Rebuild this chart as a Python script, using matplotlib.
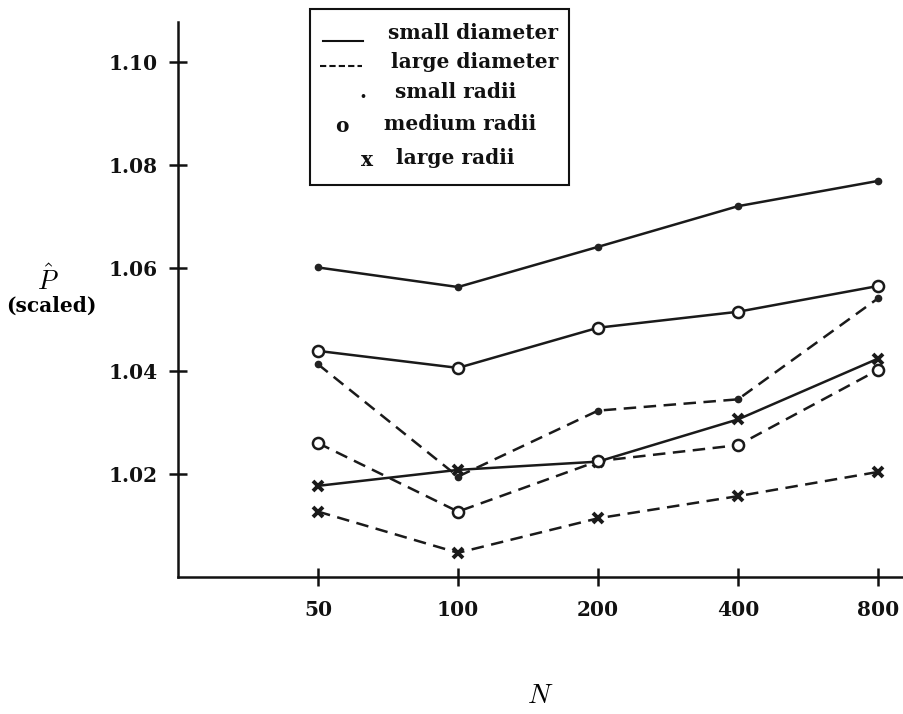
import matplotlib
matplotlib.use("Agg")
import matplotlib.pyplot as plt
import numpy as np
from matplotlib.patches import Rectangle
from matplotlib.lines import Line2D

# ---- data ----
N_labels = ["50", "100", "200", "400", "800"]
N_pos = [1, 2, 3, 4, 5]  # log2 spacing
# small diameter (solid)
sd_small = [1.0601, 1.0563, 1.0641, 1.0720, 1.0769]
sd_medium = [1.0439, 1.0406, 1.0484, 1.0515, 1.0565]
sd_large = [1.0177, 1.0208, 1.0224, 1.0306, 1.0424]
# large diameter (dashed)
ld_small = [1.0413, 1.0195, 1.0323, 1.0345, 1.0541]
ld_medium = [1.0260, 1.0127, 1.0225, 1.0256, 1.0402]
ld_large = [1.0127, 1.0047, 1.0114, 1.0157, 1.0204]
y_ticks = [1.02, 1.04, 1.06, 1.08, 1.10]
y_ticklabels = ["1.02", "1.04", "1.06", "1.08", "1.10"]
legend_texts = ["small diameter", "large diameter", "small radii", "medium radii", "large radii"]

plt.rcParams['mathtext.fontset'] = 'cm'
W, H = 904, 714
fig = plt.figure(figsize=(W/100, H/100), dpi=100)
ax = fig.add_axes([178/W, 1-577/H, (902-178)/W, (577-22)/H])

def px(x, y):
    return (x/W, 1-y/H)

lw = 1.8
dash = (0, (5, 3))
styles = [
    (sd_small, '-', dict(marker='o', ms=4.5, mfc='#222222', mec='#222222')),
    (sd_medium, '-', dict(marker='o', ms=8, mfc='white', mec='#1a1a1a', mew=1.8)),
    (sd_large, '-', dict(marker='x', ms=7.5, mec='#1a1a1a', mew=2.8)),
    (ld_small, dash, dict(marker='o', ms=4.5, mfc='#222222', mec='#222222')),
    (ld_medium, dash, dict(marker='o', ms=8, mfc='white', mec='#1a1a1a', mew=1.8)),
    (ld_large, dash, dict(marker='x', ms=7.5, mec='#1a1a1a', mew=2.8)),
]
for vals, ls, mk in styles:
    ax.plot(N_pos, vals, color='#1a1a1a', lw=lw, linestyle=ls, **mk)

ax.set_xlim(0, 724/140)
ax.set_ylim(1.0, 1.10 + 40*0.000194)
for s in ['top', 'right']:
    ax.spines[s].set_visible(False)
for s in ['left', 'bottom']:
    ax.spines[s].set_linewidth(1.8)
    ax.spines[s].set_color('#111111')

ax.set_xticks(N_pos)
ax.set_xticklabels(N_labels)
ax.set_yticks(y_ticks)
ax.set_yticklabels(y_ticklabels)
ax.tick_params(direction='inout', length=13, width=1.8, color='#111111')
ax.tick_params(axis='x', pad=10)
ax.tick_params(axis='y', pad=8)
for lab in ax.get_xticklabels() + ax.get_yticklabels():
    lab.set_fontfamily('DejaVu Serif')
    lab.set_fontweight('bold')
    lab.set_fontsize(14.5)
    lab.set_color('#111111')

# axis labels
fig.text(*px(48, 281), r'$\hat{P}$', fontsize=19, ha='center', va='center')
fig.text(*px(51, 306), '(scaled)', fontsize=14.5, fontfamily='DejaVu Serif',
         fontweight='bold', ha='center', va='center')
fig.text(*px(540, 695), r'$N$', fontsize=20, ha='center', va='center')

# legend box (drawn manually)
fig.patches.append(Rectangle(px(310.5, 185), (569-310.5)/W, (185-9)/H,
                             transform=fig.transFigure, fill=False,
                             lw=1.5, ec='#111111'))
tkw = dict(fontsize=14.5, fontfamily='DejaVu Serif', fontweight='bold',
           ha='center', va='center', color='#111111')
fig.text(*px(473, 33), legend_texts[0], **tkw)
fig.text(*px(475, 62), legend_texts[1], **tkw)
fig.text(*px(456, 92), legend_texts[2], **tkw)
fig.text(*px(460, 124), legend_texts[3], **tkw)
fig.text(*px(455, 158), legend_texts[4], **tkw)
x0, y0 = px(323, 41); x1, _ = px(363, 41)
fig.lines.append(Line2D([x0, x1], [y0, y0], transform=fig.transFigure, color='#111111', lw=1.5))
x0, y0 = px(320, 66); x1, _ = px(362, 66)
fig.lines.append(Line2D([x0, x1], [y0, y0], transform=fig.transFigure, color='#111111', lw=1.5,
                        linestyle=(0, (3, 1.5))))
fig.text(*px(363, 92), '.', **tkw)
fig.text(*px(342, 126), 'o', **tkw)
fig.text(*px(367, 160), 'x', **tkw)

fig.savefig('out.png', dpi=100)
